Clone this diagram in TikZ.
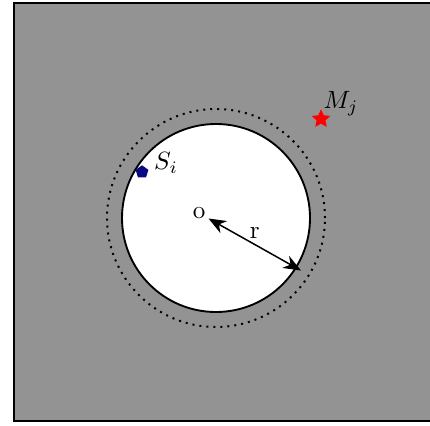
\documentclass[tikz,border=0pt]{standalone}
\usetikzlibrary{shapes.geometric,arrows.meta}
\definecolor{bggray}{RGB}{147,147,147}
\definecolor{navyblue}{RGB}{10,10,128}
\tikzset{
  dotring/.style={draw=black, line width=0.8pt, dotted},
  sensor/.style={regular polygon, regular polygon sides=5, fill=navyblue, inner sep=0pt, minimum size=5.4pt},
  target/.style={star, star points=5, star point ratio=2.1, fill=red, inner sep=0pt, minimum size=7.8pt},
  lbl/.style={inner sep=0pt},
  radarrow/.style={{Stealth[length=7pt,width=5.5pt,inset=2.2pt]}-{Stealth[length=7pt,width=5.5pt,inset=2.2pt]}, line width=0.6pt}
}
\begin{document}
\begin{tikzpicture}[x=0.4pt,y=-0.4pt]
\useasboundingbox (0,0) rectangle (430,425);
\clip (0,0) rectangle (430,425);
\draw[fill=bggray, line width=0.8pt] (14,3.5) rectangle (434,421);
\coordinate (o) at (216,218);
\draw[dotring] (o) circle[radius=43.6pt];
\draw[fill=white, line width=0.75pt] (o) circle[radius=37.6pt];
\node[lbl] (olabel) at (199,213.5) {o};
\coordinate (a) at (208.5,218.5);
\coordinate (b) at (301,270.5);
\draw[radarrow] (a) -- node[lbl, pos=0.5, above, yshift=2pt] (rlabel) {r} (b);
\node[sensor] (s) at (142,172) {};
\node[lbl] (slabel) at (166,163) {$S_i$};
\node[target] (m) at (321,119) {};
\node[lbl] (mlabel) at (341,104) {$M_j$};
\end{tikzpicture}
\end{document}
